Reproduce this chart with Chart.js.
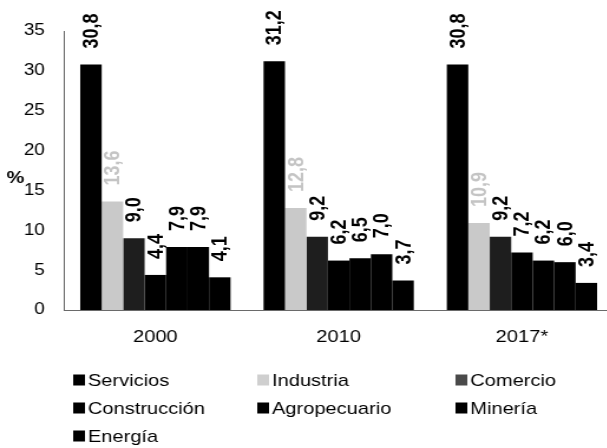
<!DOCTYPE html>
<html><head><meta charset="utf-8">
<script src="https://cdn.jsdelivr.net/npm/chart.js@4"></script>
<style>
html,body{margin:0;padding:0;background:#fff;overflow:hidden;width:607px;height:448px}
#wrap{position:absolute;left:0;top:0;width:522px;height:448px;transform:scaleX(1.18);transform-origin:0 0}
</style></head><body>
<div id="wrap"><canvas id="c"></canvas></div>
<script>
const categories = ['2000', '2010', '2017*'];
const seriesNames = ['Servicios', 'Industria', 'Comercio', 'Construcción', 'Agropecuario', 'Minería', 'Energía'];
const servicios = [30.8, 31.2, 30.8];
const industria = [13.6, 12.8, 10.9];
const comercio = [9.0, 9.2, 9.2];
const construccion = [4.4, 6.2, 7.2];
const agropecuario = [7.9, 6.5, 6.2];
const mineria = [7.9, 7.0, 6.0];
const energia = [4.1, 3.7, 3.4];
const yMin = 0, yMax = 35, yStep = 5;
const yTitle = '%';

const seriesValues = [servicios, industria, comercio, construccion, agropecuario, mineria, energia];
const barColors = ['#000000', '#c9c9c9', '#1e1e1e', '#000000', '#000000', '#000000', '#000000'];
const boxColors = ['#000000', '#cfcfcf', '#4a4a4a', '#000000', '#000000', '#000000', '#000000'];
const labelColors = ['#000000', '#c4c4c4', '#000000', '#000000', '#000000', '#000000', '#000000'];
const FONT = '"Liberation Sans", Arial, sans-serif';

const datasets = seriesNames.map((name, i) => ({
  label: name,
  data: seriesValues[i],
  backgroundColor: barColors[i],
  borderWidth: 0,
  categoryPercentage: 0.82,
  barPercentage: 1.0,
  labelColor: labelColors[i],
  boxColor: boxColors[i]
}));

const valueLabels = {
  id: 'valueLabels',
  afterDatasetsDraw(chart) {
    const ctx = chart.ctx;
    chart.data.datasets.forEach((ds, i) => {
      const meta = chart.getDatasetMeta(i);
      meta.data.forEach((bar, j) => {
        const v = ds.data[j];
        ctx.save();
        ctx.translate(bar.x + 1, bar.y - 16);
        ctx.rotate(-Math.PI / 2);
        ctx.font = 'bold 18px ' + FONT;
        ctx.fillStyle = ds.labelColor;
        ctx.textAlign = 'left';
        ctx.textBaseline = 'middle';
        ctx.fillText(v.toFixed(1).replace('.', ','), 0, 0);
        ctx.restore();
      });
    });
  }
};

const customLegend = {
  id: 'customLegend',
  afterDraw(chart) {
    const ctx = chart.ctx;
    const cols = [62, 218, 386];
    const rows = [380, 408, 436];
    ctx.save();
    ctx.font = '17px ' + FONT;
    ctx.textBaseline = 'middle';
    ctx.textAlign = 'left';
    chart.data.datasets.forEach((ds, i) => {
      const x = cols[i % 3], y = rows[Math.floor(i / 3)];
      ctx.fillStyle = ds.boxColor;
      ctx.fillRect(x, y - 5.5, 10, 11);
      ctx.fillStyle = '#000';
      ctx.fillText(ds.label, x + 12.5, y + 1);
    });
    // y-axis title
    ctx.font = 'bold 17px ' + FONT;
    ctx.textAlign = 'center';
    ctx.fillText(yTitle, 13, 178);
    ctx.restore();
  }
};

new Chart(document.getElementById('c'), {
  type: 'bar',
  data: { labels: categories, datasets },
  options: {
    responsive: true,
    maintainAspectRatio: false,
    animation: false,
    layout: { padding: { top: 31, right: 2, left: 0, bottom: 0 } },
    plugins: { legend: { display: false }, tooltip: { enabled: false } },
    scales: {
      x: {
        grid: { display: false, drawTicks: false },
        border: { display: true, color: '#6a6a6a', width: 1 },
        ticks: { color: '#000', font: { family: FONT, size: 17 }, padding: 17 },
        afterFit(scale) { scale.height = 138; }
      },
      y: {
        min: yMin, max: yMax,
        grid: { display: false, drawTicks: false },
        border: { display: true, color: '#6a6a6a', width: 1 },
        ticks: { stepSize: yStep, color: '#000', font: { family: FONT, size: 16 }, padding: 16 },
        afterFit(scale) { scale.width = 54; }
      }
    }
  },
  plugins: [valueLabels, customLegend]
});
</script>
</body></html>
